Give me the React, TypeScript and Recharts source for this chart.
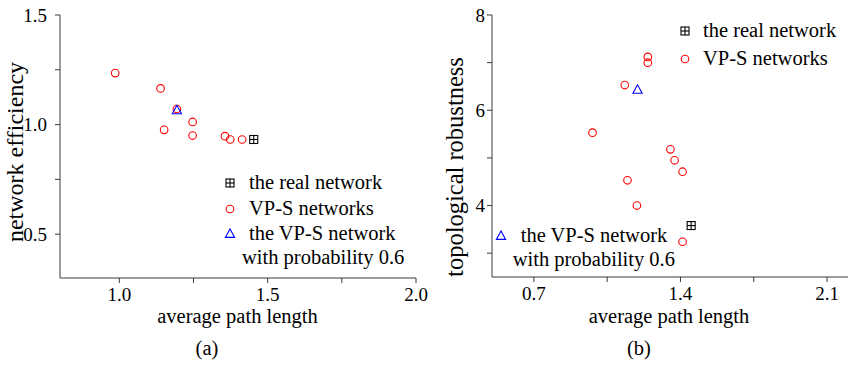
import React from "react";
import { ScatterChart, Scatter, XAxis, YAxis, Legend } from "recharts";

const FONT = '"Liberation Serif", "Times New Roman", serif';
const AXIS = "#3a3a3a";

// (a) network efficiency against average path length
const vpsPathA = [0.986, 1.139, 1.194, 1.247, 1.151, 1.247, 1.356, 1.374, 1.414];
const vpsEffA = [1.235, 1.165, 1.071, 1.012, 0.976, 0.95, 0.947, 0.932, 0.932];
const realPathA = [1.453];
const realEffA = [0.932];
const probPathA = [1.194];
const probEffA = [1.065];

// (b) topological robustness against average path length
const vpsPathB = [1.244, 1.244, 1.134, 0.98, 1.352, 1.372, 1.41, 1.147, 1.192, 1.41];
const vpsRobB = [7.12, 7.0, 6.53, 5.53, 5.18, 4.95, 4.71, 4.53, 4.0, 3.24];
const realPathB = [1.451];
const realRobB = [3.58];
const probPathB = [1.195];
const probRobB = [6.43];

const ticksXA = [1.0, 1.25, 1.5, 1.75, 2.0];
const labelsXA = ["1.0", "", "1.5", "", "2.0"];
const ticksYA = [0.5, 0.75, 1.0, 1.25, 1.5];
const labelsYA = ["0.5", "", "1.0", "", "1.5"];
const ticksXB = [0.7, 1.05, 1.4, 1.75, 2.1];
const labelsXB = ["0.7", "", "1.4", "", "2.1"];
const ticksYB = [3, 4, 5, 6, 7, 8];
const labelsYB = ["", "4", "", "6", "", "8"];

const zip = (xs: number[], ys: number[]) => xs.map((x, i) => ({ x, y: ys[i] }));

const Ring = (p: any) => (
  <circle cx={p.cx} cy={p.cy} r={3.8} fill="none" stroke="#ff0000" strokeWidth={1.1} />
);
const Tri = (p: any) => (
  <path
    d={`M${p.cx},${p.cy - 5}L${p.cx - 4.6},${p.cy + 3.4}L${p.cx + 4.6},${p.cy + 3.4}Z`}
    fill="none"
    stroke="#0000ff"
    strokeWidth={1.1}
  />
);
const Box = (p: any) => (
  <g stroke="#000" strokeWidth={1.1} fill="none">
    <rect x={p.cx - 4} y={p.cy - 4} width={8} height={8} />
    <line x1={p.cx - 4} x2={p.cx + 4} y1={p.cy} y2={p.cy} />
    <line x1={p.cx} x2={p.cx} y1={p.cy - 4} y2={p.cy + 4} />
  </g>
);

function Icon({ kind }: { kind: "ring" | "tri" | "box" }) {
  const p = { cx: 7, cy: 7 };
  return (
    <svg width={14} height={14} style={{ position: "absolute", left: -7, top: -7, overflow: "visible" }}>
      {kind === "ring" ? <Ring {...p} /> : kind === "tri" ? <Tri {...p} /> : <Box {...p} />}
    </svg>
  );
}

const txt: React.CSSProperties = {
  position: "absolute",
  fontFamily: FONT,
  fontSize: 20.5,
  lineHeight: "20px",
  whiteSpace: "nowrap",
  color: "#000",
};

function Entry({ kind, x, y, tx, text }: any) {
  return (
    <>
      <div style={{ position: "absolute", left: x, top: y }}>
        <Icon kind={kind} />
      </div>
      <div style={{ ...txt, left: tx, top: y - 11 }}>{text}</div>
    </>
  );
}

const legendA = () => (
  <div style={{ position: "relative", width: 430, height: 365 }}>
    <Entry kind="box" x={230} y={182.7} tx={249} text="the real network" />
    <Entry kind="ring" x={230} y={209.3} tx={249} text="VP-S networks" />
    <Entry kind="tri" x={230} y={234.3} tx={249} text="the VP-S network" />
    <div style={{ ...txt, left: 242, top: 247 }}>with probability 0.6</div>
  </div>
);

const legendB = () => (
  <div style={{ position: "relative", width: 423, height: 365 }}>
    <Entry kind="box" x={255} y={30.7} tx={273} text="the real network" />
    <Entry kind="ring" x={255} y={59} tx={273} text="VP-S networks" />
    <Entry kind="tri" x={70.7} y={236} tx={90.7} text="the VP-S network" />
    <div style={{ ...txt, left: 82.7, top: 249 }}>with probability 0.6</div>
  </div>
);

const tickFont = { fontSize: 19, fill: "#000", fontFamily: FONT };
const label = (labels: string[]) => (_v: any, i: number) => labels[i] ?? "";
const blank = () => "";

// bottom/left axes carry the labels, top/right axes close the frame with inward ticks
function frame(opts: any) {
  const { xTicks, xLabels, yTicks, yLabels, xDomain, yDomain, yWidth, yMargin, xHeight } = opts;
  return [
    <XAxis
      key="xb"
      xAxisId="b"
      type="number"
      dataKey="x"
      domain={xDomain}
      allowDataOverflow
      ticks={xTicks}
      interval={0}
      tickFormatter={label(xLabels)}
      tick={tickFont}
      tickSize={5}
      tickMargin={5}
      height={xHeight}
      stroke={AXIS}
    />,
    <XAxis
      key="xt"
      xAxisId="t"
      orientation="top"
      type="number"
      dataKey="x"
      domain={xDomain}
      allowDataOverflow
      ticks={xTicks}
      interval={0}
      tickFormatter={blank}
      tickSize={4}
      mirror
      height={0}
      stroke={AXIS}
    />,
    <YAxis
      key="yl"
      yAxisId="l"
      type="number"
      dataKey="y"
      domain={yDomain}
      allowDataOverflow
      ticks={yTicks}
      interval={0}
      tickFormatter={label(yLabels)}
      tick={tickFont}
      tickSize={5}
      tickMargin={yMargin}
      width={yWidth}
      stroke={AXIS}
    />,
    <YAxis
      key="yr"
      yAxisId="r"
      orientation="right"
      type="number"
      dataKey="y"
      domain={yDomain}
      allowDataOverflow
      ticks={yTicks}
      interval={0}
      tickFormatter={blank}
      tickSize={4}
      mirror
      width={0}
      stroke={AXIS}
    />,
  ];
}

function series(vps: any[], real: any[], prob: any[]) {
  return [
    <Scatter key="vps" xAxisId="b" yAxisId="l" data={vps} shape={Ring} isAnimationActive={false} />,
    <Scatter key="real" xAxisId="b" yAxisId="l" data={real} shape={Box} isAnimationActive={false} />,
    <Scatter key="prob" xAxisId="b" yAxisId="l" data={prob} shape={Tri} isAnimationActive={false} />,
    // the mirror axes need an item bound to them, so an invisible copy is attached
    <Scatter key="ghost" xAxisId="t" yAxisId="r" data={vps} shape={() => <g />} isAnimationActive={false} />,
  ];
}

const title: React.CSSProperties = { ...txt, fontSize: 20.5, lineHeight: "16px" };

export default function App() {
  return (
    <div style={{ position: "absolute", left: 0, top: 0, width: 853, height: 365, background: "#fff" }}>
      <div style={{ position: "absolute", left: 0, top: 0 }}>
        <ScatterChart width={430} height={365} margin={{ top: 15, right: 14, bottom: 0, left: 0 }}>
          {frame({
            xTicks: ticksXA,
            xLabels: labelsXA,
            yTicks: ticksYA,
            yLabels: labelsYA,
            xDomain: [0.8, 2.0],
            yDomain: [0.3, 1.5],
            yWidth: 60,
            yMargin: 8,
            xHeight: 87,
          })}
          {series(zip(vpsPathA, vpsEffA), zip(realPathA, realEffA), zip(probPathA, probEffA))}
          <Legend
            content={legendA}
            layout="vertical"
            align="center"
            verticalAlign="middle"
            wrapperStyle={{ left: 0, top: 0, width: 430, height: 365, pointerEvents: "none" }}
          />
        </ScatterChart>
      </div>
      <div style={{ position: "absolute", left: 430, top: 0 }}>
        <ScatterChart width={423} height={365} margin={{ top: 15, right: 5, bottom: 0, left: 0 }}>
          {frame({
            xTicks: ticksXB,
            xLabels: labelsXB,
            yTicks: ticksYB,
            yLabels: labelsYB,
            xDomain: [0.5, 2.2],
            yDomain: [2.5, 8],
            yWidth: 62,
            yMargin: 2,
            xHeight: 88,
          })}
          {series(zip(vpsPathB, vpsRobB), zip(realPathB, realRobB), zip(probPathB, probRobB))}
          <Legend
            content={legendB}
            layout="vertical"
            align="center"
            verticalAlign="middle"
            wrapperStyle={{ left: 0, top: 0, width: 423, height: 365, pointerEvents: "none" }}
          />
        </ScatterChart>
      </div>

      <div style={{ ...title, left: 237.5, top: 308, transform: "translateX(-50%)" }}>average path length</div>
      <div style={{ ...title, left: 669, top: 308, transform: "translateX(-50%)" }}>average path length</div>
      <div style={{ ...title, left: 207, top: 340, transform: "translateX(-50%)" }}>(a)</div>
      <div style={{ ...title, left: 639, top: 340, transform: "translateX(-50%)" }}>(b)</div>
      <div
        style={{ ...title, fontSize: 24, left: 15, top: 152, transform: "translate(-50%, -50%) rotate(-90deg)" }}
      >
        network efficiency
      </div>
      <div
        style={{ ...title, fontSize: 24.5, left: 455, top: 167, transform: "translate(-50%, -50%) rotate(-90deg)" }}
      >
        topological robustness
      </div>
    </div>
  );
}
